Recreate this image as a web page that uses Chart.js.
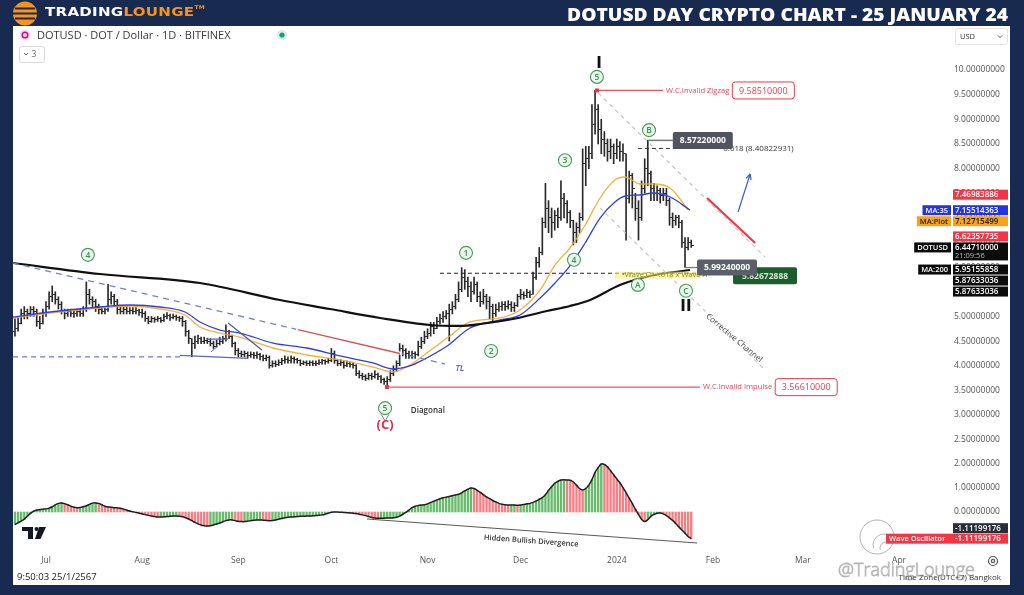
<!DOCTYPE html>
<html>
<head>
<meta charset="utf-8">
<title>DOTUSD Day Crypto Chart</title>
<script src="https://cdn.jsdelivr.net/npm/chart.js@4.4.1/dist/chart.umd.min.js"></script>
<style>
  html, body { margin: 0; padding: 0; }
  body { width: 1024px; height: 595px; background: #182a50; position: relative; overflow: hidden; font-family: 'Open Sans', sans-serif; }
  #panel { position: absolute; left: 13px; top: 26px; width: 997px; height: 559px; background: #ffffff; }
  #chart { position: absolute; left: 0; top: 0; }
  #brand { position: absolute; left: 45px; top: 4px; font: bold 12.5px 'DejaVu Sans', sans-serif; white-space: nowrap; transform-origin: left center; letter-spacing: 0.2px; }
  #brand .w { color: #ffffff; }
  #brand .o { color: #f7931e; }
  #brand sup { color: #f7931e; font-size: 5px; vertical-align: top; }
  #title { position: absolute; right: 16px; top: 2px; font: 800 18px 'Open Sans', sans-serif; color: #ffffff; white-space: nowrap; transform-origin: right center; }
  #sym { position: absolute; left: 37px; top: 27px; font: 400 11px 'Open Sans', sans-serif; color: #3a3a3a; white-space: nowrap; }
</style>
</head>
<body>
<div id="panel"></div>
<canvas id="chart" width="1024" height="595"></canvas>
<div id="brand"><span class="w">TRADING</span><span class="o">LOUNGE</span><sup>TM</sup></div>
<div id="title">DOTUSD DAY CRYPTO CHART - 25 JANUARY 24</div>
<div id="sym">DOTUSD · DOT / Dollar · 1D · BITFINEX</div>
<script>
// Daily DOT/USD bars. Day numbers count from 1 Jul 2023 (= day 0); first bar is 21 Jun 2023.
const firstDay = -10;
const firstOpen = 4.70;
const closes = [
  4.75,4.85,5.05,5.10,5.05,5.15,5.10,4.90,4.85,5.05,
  5.20,5.40,5.45,5.35,5.25,5.10,5.05,5.10,5.05,5.05,
  5.10,5.05,5.15,5.45,5.35,5.30,5.20,5.15,5.10,5.15,
  5.35,5.40,5.30,5.15,5.10,5.15,5.10,5.12,5.10,5.12,
  5.08,5.05,4.95,4.90,4.95,4.93,4.95,4.92,5.00,5.02,
  4.98,5.00,4.97,4.95,4.90,4.70,4.55,4.45,4.50,4.55,
  4.50,4.52,4.50,4.45,4.40,4.45,4.50,4.55,4.70,4.60,
  4.45,4.30,4.25,4.22,4.25,4.20,4.22,4.20,4.22,4.18,
  4.15,4.17,4.00,4.05,4.02,4.07,4.10,4.12,4.10,4.15,
  4.12,4.10,4.05,4.07,4.05,4.06,4.04,4.05,4.07,4.10,
  4.08,4.10,4.25,4.10,4.05,4.07,4.00,4.05,4.02,4.00,
  3.85,3.80,3.78,3.75,3.80,3.78,3.82,3.78,3.72,3.68,
  3.72,3.85,3.92,4.05,4.35,4.30,4.25,4.20,4.25,4.22,
  4.40,4.50,4.60,4.65,4.80,4.75,4.90,4.95,5.00,5.05,
  5.15,5.20,5.35,5.55,5.80,5.70,5.60,5.50,5.65,5.40,
  5.30,5.40,5.30,5.20,5.05,5.15,5.20,5.25,5.20,5.25,
  5.18,5.22,5.40,5.45,5.42,5.48,5.45,5.80,6.10,6.30,
  6.90,7.20,7.00,6.90,7.05,7.00,7.40,7.30,7.10,6.95,
  6.70,6.80,7.00,8.10,8.20,8.30,8.90,9.20,8.80,8.60,
  8.50,8.35,8.45,8.30,8.45,8.35,8.30,7.40,7.85,7.60,
  7.20,7.00,7.60,8.00,7.90,7.60,7.50,7.55,7.45,7.50,
  7.35,7.00,6.95,7.00,6.90,6.50,6.40,6.50,6.4471
];
const highs = [
  4.95,5.00,5.15,5.20,5.15,5.20,5.20,5.15,5.00,5.15,
  5.30,5.50,5.62,5.50,5.40,5.30,5.15,5.15,5.15,5.12,
  5.15,5.15,5.20,5.70,5.55,5.40,5.35,5.25,5.20,5.20,
  5.65,5.50,5.45,5.35,5.20,5.20,5.20,5.18,5.18,5.18,
  5.15,5.15,5.10,5.00,5.00,4.98,5.00,4.98,5.05,5.08,
  5.05,5.05,5.03,5.00,5.00,4.92,4.72,4.55,4.60,4.62,
  4.58,4.58,4.56,4.55,4.50,4.52,4.58,4.60,4.83,4.72,
  4.62,4.48,4.35,4.30,4.30,4.28,4.28,4.27,4.28,4.25,
  4.22,4.22,4.20,4.10,4.10,4.12,4.15,4.20,4.18,4.20,
  4.18,4.15,4.12,4.10,4.10,4.10,4.10,4.10,4.12,4.13,
  4.12,4.15,4.35,4.30,4.12,4.12,4.10,4.10,4.08,4.07,
  4.02,3.90,3.85,3.82,3.85,3.85,3.90,3.85,3.80,3.75,
  3.78,3.90,4.00,4.10,4.45,4.42,4.35,4.30,4.30,4.28,
  4.50,4.58,4.70,4.75,4.88,4.88,4.98,5.05,5.10,5.12,
  5.25,5.30,5.45,5.70,5.99,5.95,5.80,5.70,5.80,5.70,
  5.50,5.55,5.45,5.40,5.25,5.25,5.28,5.30,5.30,5.32,
  5.30,5.28,5.45,5.55,5.50,5.55,5.52,5.90,6.20,6.40,
  7.00,7.70,7.35,7.20,7.15,7.20,7.75,7.50,7.35,7.15,
  6.95,6.90,7.10,8.40,8.45,8.45,9.30,9.5851,9.30,9.00,
  8.75,8.60,8.60,8.50,8.60,8.55,8.50,8.30,7.95,7.90,
  7.50,7.35,7.75,8.20,8.5722,7.95,7.70,7.65,7.60,7.60,
  7.60,7.40,7.10,7.05,7.05,6.95,6.60,6.60,6.55
];
const lows = [
  4.60,4.70,4.85,4.95,4.95,5.00,5.00,4.80,4.75,4.85,
  5.00,5.15,5.30,5.25,5.15,5.05,4.95,5.00,5.00,4.98,
  5.00,5.00,5.00,5.10,5.25,5.20,5.10,5.05,5.05,5.05,
  5.10,5.25,5.20,5.05,5.05,5.05,5.05,5.05,5.05,5.05,
  5.02,4.98,4.90,4.85,4.88,4.88,4.90,4.88,4.90,4.95,
  4.92,4.95,4.92,4.90,4.80,4.60,4.45,4.18,4.35,4.45,
  4.45,4.45,4.45,4.40,4.35,4.38,4.42,4.45,4.50,4.55,
  4.38,4.22,4.18,4.18,4.18,4.15,4.17,4.15,4.15,4.12,
  4.10,4.10,3.95,3.97,3.98,4.00,4.02,4.05,4.05,4.05,
  4.05,4.05,4.00,4.02,4.00,4.00,4.00,4.00,4.02,4.03,
  4.03,4.05,4.08,4.05,4.00,4.00,3.95,3.98,3.97,3.95,
  3.80,3.75,3.72,3.70,3.72,3.72,3.75,3.72,3.65,3.62,
  3.5661,3.68,3.80,3.88,4.00,4.20,4.15,4.15,4.15,4.15,
  4.20,4.35,4.45,4.55,4.60,4.65,4.75,4.85,4.88,4.95,
  4.50,5.05,5.15,5.30,5.50,5.55,5.40,5.30,5.45,5.30,
  5.20,5.25,5.15,4.95,4.90,5.00,5.10,5.12,5.12,5.15,
  5.10,5.10,5.20,5.35,5.35,5.38,5.38,5.45,5.75,6.00,
  6.25,6.80,6.70,6.60,6.75,6.80,6.95,7.00,6.90,6.80,
  6.45,6.50,6.70,6.95,7.65,8.00,8.20,8.70,8.50,8.30,
  8.25,8.15,8.20,8.10,8.20,8.15,8.15,6.55,7.30,7.20,
  6.95,6.55,6.95,7.50,7.65,7.35,7.35,7.35,7.30,7.35,
  7.25,6.85,6.80,6.85,6.80,6.40,5.9924,6.35,6.40
];
// Wave oscillator, one value per bar
const waveOsc = [
  -0.52,-0.45,-0.38,-0.30,-0.18,-0.06,0.04,0.08,0.10,0.12,
  0.13,0.16,0.22,0.30,0.36,0.38,0.35,0.30,0.24,0.20,
  0.18,0.19,0.22,0.26,0.32,0.37,0.38,0.36,0.30,0.24,
  0.21,0.20,0.18,0.17,0.16,0.12,0.08,0.04,0.01,-0.02,
  -0.05,-0.08,-0.11,-0.14,-0.17,-0.19,-0.21,-0.21,-0.20,-0.19,
  -0.18,-0.17,-0.17,-0.18,-0.20,-0.24,-0.29,-0.36,-0.43,-0.49,
  -0.54,-0.57,-0.58,-0.57,-0.54,-0.50,-0.46,-0.41,-0.36,-0.33,
  -0.33,-0.36,-0.39,-0.40,-0.40,-0.38,-0.36,-0.34,-0.33,-0.33,
  -0.34,-0.35,-0.36,-0.35,-0.33,-0.30,-0.27,-0.24,-0.22,-0.21,
  -0.20,-0.19,-0.18,-0.18,-0.17,-0.17,-0.16,-0.15,-0.14,-0.12,
  -0.09,-0.05,-0.01,0.00,0.00,-0.01,-0.02,-0.03,-0.04,-0.05,
  -0.07,-0.09,-0.12,-0.15,-0.19,-0.23,-0.25,-0.26,-0.26,-0.26,
  -0.25,-0.25,-0.24,-0.22,-0.17,-0.10,-0.02,0.08,0.18,0.24,
  0.27,0.29,0.30,0.34,0.40,0.45,0.50,0.55,0.59,0.62,
  0.65,0.68,0.71,0.74,0.80,0.88,0.95,1.00,0.98,0.90,
  0.82,0.72,0.63,0.56,0.48,0.42,0.36,0.32,0.30,0.29,
  0.29,0.29,0.28,0.29,0.31,0.34,0.36,0.40,0.46,0.53,
  0.60,0.72,0.90,1.05,1.20,1.28,1.33,1.34,1.33,1.32,
  1.25,1.12,0.98,0.92,0.98,1.12,1.35,1.65,1.85,2.00,
  1.98,1.88,1.72,1.55,1.38,1.22,1.02,0.80,0.58,0.35,
  0.12,-0.10,-0.30,-0.40,-0.32,-0.18,-0.10,-0.05,-0.04,-0.08,
  -0.15,-0.25,-0.35,-0.48,-0.62,-0.75,-0.88,-1.02,-1.11
];
// Moving averages: [day, price]
const ma200Pts = [[-10.6,6.084],[17.4,5.861],[49.6,5.679],[75.4,5.334],[91.6,5.151],[107.7,4.969],[123.8,4.827],[133.5,4.807],[139.9,4.847],[150.5,4.949],[161.5,5.111],[168.9,5.212],[175.4,5.334],[185.0,5.638],[194.7,5.821],[207.6,5.943]];
const ma35Pts = [[-10.6,4.989],[1.3,5.090],[17.4,5.192],[27.1,5.232],[36.8,5.192],[44.8,5.090],[49.6,4.888],[56.1,4.725],[62.5,4.664],[73.2,4.461],[84.1,4.360],[94.8,4.198],[105.4,4.056],[111.9,3.934],[117.3,3.995],[121.5,4.117],[129.3,4.400],[136.7,4.766],[146.4,4.928],[152.8,5.029],[159.3,5.374],[164.1,5.679],[168.9,6.024],[173.8,6.490],[178.6,6.997],[183.4,7.322],[186.7,7.444],[191.5,7.464],[195.7,7.505],[201.2,7.423],[207.6,7.160]];
const maPlotPts = [[-10.6,4.969],[1.3,5.070],[17.4,5.171],[27.1,5.212],[36.8,5.151],[44.8,5.029],[49.6,4.786],[56.1,4.664],[62.5,4.583],[73.2,4.360],[84.1,4.218],[94.8,4.117],[105.4,3.974],[111.9,3.873],[117.3,4.015],[121.5,4.198],[129.3,4.563],[136.7,4.888],[146.4,4.969],[152.8,5.131],[159.3,5.537],[164.1,6.044],[168.9,6.389],[173.8,6.855],[178.6,7.403],[183.4,7.768],[186.7,7.829],[191.5,7.687],[195.7,7.687],[201.2,7.606],[207.0,7.160]];
// Axis ticks
const monthTicks = [0,31,62,92,123,153,184,215,244,275];
const monthNames = ['Jul','Aug','Sep','Oct','Nov','Dec','2024','Feb','Mar','Apr'];
const priceTicks = [10,9.5,9,8.5,8,7.5,7,6.5,6,5.5,5,4.5,4,3.5,3,2.5];
const oscTicks = [2,1,0];
// Last-value tags on the price scale
const priceTags = [
  {value:7.46983886, bg:'#f23645', fg:'#ffffff'},
  {value:7.15514363, bg:'#2434e0', fg:'#ffffff', name:'MA:35'},
  {value:7.12715499, bg:'#f7a21b', fg:'#1d1d1d', name:'MA:Plot'},
  {value:6.62357735, bg:'#f23645', fg:'#ffffff'},
  {value:6.44710000, bg:'#0b0b0b', fg:'#ffffff', name:'DOTUSD', sub:'21:09:56'},
  {value:5.95155858, bg:'#0b0b0b', fg:'#ffffff', name:'MA:200'},
  {value:5.87633036, bg:'#0b0b0b', fg:'#ffffff'},
  {value:5.87633036, bg:'#0b0b0b', fg:'#ffffff'}
];
const oscLast = -1.11199176;
// Elliott wave counts: [label, day, price]
const waveCounts = [['4',13.5,6.25],['1',135.4,6.29],['2',143.5,4.30],['3',167.3,8.17],['5',177.6,9.86],['B',194.4,8.78],['4',170.2,6.15],['A',190.8,5.64],['C',206.3,5.52],['5',109.3,3.14]];
const degreeMarks = [['I',178.3,10.12],['II',206.3,5.18]];
const zigzagInvalid = {day:177.6, price:9.5851, endDay:198.9};
const impulseInvalid = {day:109.9, price:3.5661, endDay:210.8};
const waveBHigh = {day:194, price:8.5722};
const waveCLow = {day:206, price:5.9924};
const waveCTarget = 5.82672888;
const fib618 = {price:8.40822931, fromDay:190.8, toDay:218};
const breakLevel = {price:5.87633036, fromDay:127, toDay:210.8};
const trendLine = {d1:-10.6, p1:6.084, d2:128.6, p2:4.035, redFrom:81.2, redTo:114.1};
const channelTop = [[178.0,9.533],[231.8,6.206]];
const channelBottom = [[178.6,7.200],[231.8,3.914]];
const divergence = [[103.5,-0.29],[209.9,-1.29]];

Chart.defaults.font.family = "'Open Sans', sans-serif";

const days = closes.map((_, i) => firstDay + i);
const opens = closes.map((c, i) => i === 0 ? firstOpen : closes[i - 1]);
const oscColors = waveOsc.map((v, i) => (i === 0 || v >= waveOsc[i - 1]) ? 'rgba(76,175,80,0.85)' : 'rgba(242,78,88,0.72)');
const toXY = pts => pts.map(([x, y]) => ({x, y}));

function tickMark(side) {
  const c = document.createElement('canvas');
  c.width = 5; c.height = 1;
  const g = c.getContext('2d');
  g.fillStyle = '#2a2a2a';
  g.fillRect(side < 0 ? 0 : 3, 0, 2, 1);
  return c;
}

function roundRectPath(c, x, y, w, h, r) {
  c.beginPath();
  c.moveTo(x + r, y);
  c.lineTo(x + w - r, y); c.quadraticCurveTo(x + w, y, x + w, y + r);
  c.lineTo(x + w, y + h - r); c.quadraticCurveTo(x + w, y + h, x + w - r, y + h);
  c.lineTo(x + r, y + h); c.quadraticCurveTo(x, y + h, x, y + h - r);
  c.lineTo(x, y + r); c.quadraticCurveTo(x, y, x + r, y);
  c.closePath();
}

const overlay = {
  id: 'overlay',
  afterDraw(chart) {
    const c = chart.ctx;
    const sx = chart.scales.x, sy = chart.scales.y, so = chart.scales.yo;
    const X = d => sx.getPixelForValue(d);
    const Y = p => sy.getPixelForValue(p);
    const YO = v => so.getPixelForValue(v);
    const F = (w, s) => `${w} ${s}px 'Open Sans', sans-serif`;

    function seg(x1, y1, x2, y2, col, w, dash) {
      c.save(); c.beginPath(); c.setLineDash(dash || []); c.strokeStyle = col; c.lineWidth = w;
      c.moveTo(x1, y1); c.lineTo(x2, y2); c.stroke(); c.restore();
    }
    function txt(s, x, y, font, col, align, base) {
      c.save(); c.font = font; c.fillStyle = col; c.textAlign = align || 'left'; c.textBaseline = base || 'middle';
      c.fillText(s, x, y); c.restore();
    }
    function box(x, y, w, h, r, fill, stroke) {
      c.save(); roundRectPath(c, x, y, w, h, r);
      if (fill) { c.fillStyle = fill; c.fill(); }
      if (stroke) { c.strokeStyle = stroke; c.lineWidth = 1; c.stroke(); }
      c.restore();
    }
    function width(s, font) { c.save(); c.font = font; const w = c.measureText(s).width; c.restore(); return w; }

    // corrective channel
    seg(X(channelTop[0][0]), Y(channelTop[0][1]), X(channelTop[1][0]), Y(channelTop[1][1]), '#c6c6c6', 1.2, [4, 4]);
    seg(X(channelBottom[0][0]), Y(channelBottom[0][1]), X(channelBottom[1][0]), Y(channelBottom[1][1]), '#c6c6c6', 1.2, [4, 4]);

    // falling trend line (TL) with the broken section in red
    const tl = trendLine;
    const tlAt = d => tl.p1 + (tl.p2 - tl.p1) * (d - tl.d1) / (tl.d2 - tl.d1);
    seg(X(tl.d1), Y(tl.p1), X(tl.d2), Y(tl.p2), '#7282cc', 1.3, [6, 5]);
    seg(X(tl.redFrom) - 2, Y(tlAt(tl.redFrom)), X(tl.redTo) + 2, Y(tlAt(tl.redTo)), '#ffffff', 3);
    seg(X(tl.redFrom), Y(tlAt(tl.redFrom)), X(tl.redTo), Y(tlAt(tl.redTo)), '#d9534f', 1.3);
    txt('TL', X(131.9), Y(3.955), 'italic 600 9px \'Open Sans\', sans-serif', '#5b6bc9', 'left');

    // summer range / triangle drawings
    seg(X(-10.6), Y(4.18), X(43.2), Y(4.18), '#6b7bd0', 1.2, [5, 4]);
    seg(X(43.2), Y(4.21), X(65.1), Y(4.15), '#5566cc', 1.3);
    seg(X(51.9), Y(4.54), X(58.7), Y(4.54), '#5566cc', 1.3);
    seg(X(53.2), Y(4.28), X(55.4), Y(4.40), '#5566cc', 1);
    seg(X(58.7), Y(4.867), X(69.6), Y(4.319), '#4a5aa8', 1.2);

    // horizontal levels
    seg(X(breakLevel.fromDay), Y(breakLevel.price), X(breakLevel.toDay), Y(breakLevel.price), '#222', 1, [4, 3]);
    seg(X(fib618.fromDay), Y(fib618.price), X(fib618.toDay), Y(fib618.price), '#333', 1, [4, 3]);
    txt('0.618 (8.40822931)', X(fib618.toDay) + 1, Y(fib618.price), F(400, 8), '#333');

    // invalidation levels
    function invalidation(lv, label, valueText) {
      const x0 = X(lv.day), y0 = Y(lv.price), x1 = X(lv.endDay);
      seg(x0, y0, x1, y0, '#f0505e', 1.2);
      c.fillStyle = '#e23a4a'; c.fillRect(x0 - 2, y0 - 2, 4, 4);
      const f = F(400, 7.6);
      txt(label, x1 + 3, y0, f, '#ee4455');
      const bx = x1 + 3 + width(label, f) + 3;
      box(bx, y0 - 8.5, 62, 17, 3, '#ffffff', '#f23645');
      txt(valueText, bx + 31, y0 + 0.5, F(400, 9), '#e8404e', 'center');
    }
    invalidation(zigzagInvalid, 'W.C.Invalid Zigzag', '9.58510000');
    invalidation(impulseInvalid, 'W.C.Invalid Impulse', '3.56610000');

    // expected path sketch
    seg(X(213.1), Y(7.403), X(228.6), Y(6.490), '#f23645', 2.2);
    const ax1 = X(223.1), ay1 = Y(7.119), ax2 = X(227.0), ay2 = Y(7.890);
    seg(ax1, ay1, ax2, ay2, '#3a5bc7', 1.2);
    const ang = Math.atan2(ay2 - ay1, ax2 - ax1);
    seg(ax2, ay2, ax2 - 6 * Math.cos(ang - 0.45), ay2 - 6 * Math.sin(ang - 0.45), '#3a5bc7', 1.2);
    seg(ax2, ay2, ax2 - 6 * Math.cos(ang + 0.45), ay2 - 6 * Math.sin(ang + 0.45), '#3a5bc7', 1.2);

    // wave C projection note
    c.fillStyle = 'rgba(255,236,120,0.6)';
    c.fillRect(X(183.4), Y(5.84) - 3.5, X(210.8) - X(183.4), 7);
    txt('\u2022Wave C = .618 x Wave A', X(185.7), Y(5.84), F(400, 7.5), '#7d8a1d');

    // wave count circles
    waveCounts.forEach(([t, d, p]) => {
      const x = X(d), y = Y(p);
      c.beginPath(); c.arc(x, y, 6.5, 0, Math.PI * 2);
      c.fillStyle = 'rgba(234,246,236,0.95)'; c.fill();
      c.lineWidth = 1.1; c.strokeStyle = '#4a9a5c'; c.stroke();
      txt(t, x, y + 0.5, F(600, 8.5), '#3f8f52', 'center');
    });
    {
      const x = X(109.3), y = Y(3.14);
      c.save(); c.beginPath(); c.strokeStyle = '#6d8f74'; c.lineWidth = 1;
      c.moveTo(x - 4, y + 6); c.lineTo(x, y + 13); c.lineTo(x + 4, y + 6); c.stroke(); c.restore();
      txt('(C)', x, Y(2.80), F(700, 13), '#e5304a', 'center');
      txt('Diagonal', X(123.1), Y(3.08), F(600, 8), '#333', 'center');
    }
    degreeMarks.forEach(([t, d, p]) => txt(t, X(d), Y(p), "bold 15px 'DejaVu Sans', sans-serif", '#111', 'center'));

    // channel caption
    c.save(); c.translate(X(221.8), Y(4.563)); c.rotate(40 * Math.PI / 180);
    txt('Corrective Channel', 0, 0, F(400, 8), '#444', 'center'); c.restore();

    // wave B high label
    {
      const x = X(waveBHigh.day), y = Y(waveBHigh.price);
      seg(x, y, x + 25, y, '#777', 1.5);
      box(x + 25, y - 8.5, 60, 17, 2, '#50545e');
      txt('8.57220000', x + 55, y + 0.5, F(700, 8.5), '#ffffff', 'center');
    }
    // wave C low and target labels
    {
      const x = X(waveCLow.day), y = Y(waveCLow.price), yt = Y(waveCTarget);
      box(x + 48, yt - 8.5, 64, 17, 2, '#1d5c2c');
      txt(waveCTarget.toFixed(8), x + 80, yt + 0.5, F(700, 8.5), '#cfe8d2', 'center');
      seg(x, y, x + 12, y, '#777', 1.2);
      box(x + 12, y - 8, 60, 16, 2, '#5b5f68');
      txt('5.99240000', x + 42, y + 0.5, F(700, 8.5), '#ffffff', 'center');
    }

    // hidden bullish divergence on the oscillator
    {
      const x1 = X(divergence[0][0]), y1 = YO(divergence[0][1]), x2 = X(divergence[1][0]), y2 = YO(divergence[1][1]);
      seg(x1, y1, x2, y2, '#5a5a5a', 1.1);
      c.save(); c.translate(X(156.4), YO(-1.21)); c.rotate(Math.atan2(y2 - y1, x2 - x1));
      txt('Hidden Bullish Divergence', 0, 0, F(600, 7.5), '#333', 'center'); c.restore();
    }

    // oscillator scale labels
    oscTicks.forEach(v => txt(v.toFixed(8), 954, YO(v), F(400, 8.5), '#555'));

    // last-value tags on the price scale
    let prevBottom = -Infinity;
    priceTags.forEach(tag => {
      const h = tag.sub ? 18 : 10;
      let top = Y(tag.value) - 5;
      if (top < prevBottom + 1) top = prevBottom + 1;
      prevBottom = top + h;
      c.fillStyle = tag.bg; c.fillRect(953, top, 55, h);
      txt(tag.value.toFixed(8), 955, top + 5.3, F(600, 8), tag.fg);
      if (tag.sub) txt(tag.sub, 955, top + 13.5, F(400, 7.5), '#bbbbbb');
      if (tag.name) {
        const f = F(600, 7.5);
        const w = width(tag.name, f) + 6;
        c.fillStyle = tag.bg; c.fillRect(951 - w, top, w, 10);
        txt(tag.name, 951 - w / 2, top + 5.3, f, tag.fg, 'center');
      }
    });
    // oscillator tag
    {
      const y = YO(oscLast);
      c.fillStyle = '#f23645'; c.fillRect(886, y - 5, 122, 10);
      txt('Wave Oscillator', 889, y + 0.3, F(600, 7.5), '#ffffff');
      txt(oscLast.toFixed(8), 955, y + 0.3, F(600, 8), '#ffffff');
      c.fillStyle = '#2a2e39'; c.fillRect(953, y - 15.5, 55, 10);
      txt(oscLast.toFixed(8), 955, y - 10.2, F(600, 8), '#ffffff');
    }

    // watermark
    c.save();
    c.strokeStyle = 'rgba(120,120,120,0.55)'; c.lineWidth = 1;
    c.beginPath(); c.arc(877, 537, 17, 0, Math.PI * 2); c.stroke();
    c.beginPath(); c.arc(884, 545, 11, Math.PI * 0.9, Math.PI * 1.6); c.stroke();
    c.beginPath(); c.arc(886, 548, 6, Math.PI * 0.9, Math.PI * 1.7); c.stroke();
    c.restore();
    txt('Time Zone(UTC+7) Bangkok', 1001, 578, F(400, 8), '#333', 'right');
    c.save(); c.font = "300 18px 'Open Sans', sans-serif"; c.strokeStyle = 'rgba(120,120,120,0.55)'; c.lineWidth = 0.8;
    c.textBaseline = 'middle'; c.strokeText('@TradingLounge', 838, 571); c.restore();

    // settings gear
    c.save(); c.strokeStyle = '#555'; c.lineWidth = 1.2;
    c.beginPath(); c.arc(993, 561, 4.5, 0, Math.PI * 2); c.stroke();
    c.beginPath(); c.arc(993, 561, 1.6, 0, Math.PI * 2); c.stroke(); c.restore();

    // timestamp
    txt('9:50:03 25/1/2567', 17, 577, F(400, 9.5), '#222');

    // platform mark
    c.save(); c.fillStyle = '#131722';
    c.beginPath(); c.moveTo(22, 527); c.lineTo(33, 527); c.lineTo(33, 539); c.lineTo(28, 539); c.lineTo(28, 531); c.lineTo(22, 531); c.closePath(); c.fill();
    c.beginPath(); c.arc(36.5, 529, 2, 0, Math.PI * 2); c.fill();
    c.beginPath(); c.moveTo(39, 527); c.lineTo(46, 527); c.lineTo(40.5, 539); c.lineTo(35, 539); c.closePath(); c.fill();
    c.restore();

    // symbol header
    c.save();
    c.beginPath(); c.arc(25, 35, 5.5, 0, Math.PI * 2); c.fillStyle = '#f6dbe9'; c.fill();
    c.beginPath(); c.arc(25, 35, 2.8, 0, Math.PI * 2); c.strokeStyle = '#e6007a'; c.lineWidth = 1.4; c.stroke();
    c.beginPath(); c.arc(282, 35, 5, 0, Math.PI * 2); c.fillStyle = 'rgba(26,161,121,0.18)'; c.fill();
    c.beginPath(); c.arc(282, 35, 2.6, 0, Math.PI * 2); c.fillStyle = '#1aa179'; c.fill();
    c.restore();
    box(19.5, 46.5, 25, 16, 2, '#ffffff', '#d9d9d9');
    seg(24, 53, 26, 55, '#666', 1); seg(26, 55, 28, 53, '#666', 1);
    txt('3', 34, 55, F(400, 8.5), '#666', 'center');
    box(955.5, 28.5, 52, 16, 2, '#ffffff', '#e3e3e3');
    txt('USD', 960, 37, F(400, 7.5), '#333');
    seg(998, 35.5, 1000, 37.5, '#555', 1); seg(1000, 37.5, 1002, 35.5, '#555', 1);

    // brand circle
    c.save();
    c.beginPath(); c.arc(25, 13.5, 12, 0, Math.PI * 2); c.fillStyle = '#f7931e'; c.fill();
    c.clip();
    c.fillStyle = '#182a50';
    c.fillRect(15, 7.5, 20, 2); c.fillRect(13, 12.5, 24, 2); c.fillRect(15, 17.5, 20, 2);
    c.restore();
  }
};

new Chart(document.getElementById('chart'), {
  type: 'line',
  data: {
    datasets: [
      { type: 'bar', label: 'Wave Oscillator', data: days.map((d, i) => ({x: d, y: waveOsc[i]})), yAxisID: 'yo',
        backgroundColor: oscColors, barThickness: 1.7, grouped: false, order: 9 },
      { type: 'line', label: 'Wave Oscillator line', data: days.map((d, i) => ({x: d, y: waveOsc[i]})), yAxisID: 'yo',
        borderColor: '#1e1e1e', borderWidth: 1.5, pointRadius: 0, tension: 0.35, order: 8 },
      { type: 'bar', label: 'DOTUSD range', data: days.map((d, i) => ({x: d, y: [lows[i], highs[i]]})), yAxisID: 'y',
        backgroundColor: '#2a2a2a', barThickness: 1, grouped: false, order: 7 },
      { type: 'scatter', label: 'Open', data: days.map((d, i) => ({x: d, y: opens[i]})), yAxisID: 'y',
        pointStyle: tickMark(-1), pointRadius: 1, order: 6 },
      { type: 'scatter', label: 'Close', data: days.map((d, i) => ({x: d, y: closes[i]})), yAxisID: 'y',
        pointStyle: tickMark(1), pointRadius: 1, order: 6 },
      { type: 'line', label: 'MA:Plot', data: toXY(maPlotPts), yAxisID: 'y', borderColor: 'rgba(246,166,35,0.9)',
        borderWidth: 1.3, pointRadius: 0, cubicInterpolationMode: 'monotone', order: 5 },
      { type: 'line', label: 'MA:35', data: toXY(ma35Pts), yAxisID: 'y', borderColor: '#2f3fe3',
        borderWidth: 1.3, pointRadius: 0, cubicInterpolationMode: 'monotone', order: 4 },
      { type: 'line', label: 'MA:200', data: toXY(ma200Pts), yAxisID: 'y', borderColor: '#111111',
        borderWidth: 2.2, pointRadius: 0, cubicInterpolationMode: 'monotone', order: 3 }
    ]
  },
  options: {
    responsive: false,
    animation: false,
    devicePixelRatio: 1,
    events: [],
    layout: { padding: { left: 13, right: 14, top: 26, bottom: 10 } },
    plugins: { legend: { display: false }, tooltip: { enabled: false } },
    scales: {
      x: {
        type: 'linear', min: -10.638, max: 291.42, offset: false,
        grid: { display: false, drawTicks: false }, border: { display: false },
        afterBuildTicks: s => { s.ticks = monthTicks.map(v => ({value: v})); },
        afterFit: s => { s.height = 37; },
        ticks: { autoSkip: false, maxRotation: 0, padding: 7, color: '#555', font: { size: 8.5 },
                 callback: (v, i) => monthNames[i] }
      },
      y: {
        type: 'linear', position: 'right', min: 0.3024, max: 10.8927,
        grid: { display: false, drawTicks: false }, border: { display: false },
        afterBuildTicks: s => { s.ticks = priceTicks.map(v => ({value: v})); },
        afterFit: s => { s.width = 60; },
        ticks: { padding: 4, color: '#555', font: { size: 8.5 }, callback: v => Number(v).toFixed(8) }
      },
      yo: { type: 'linear', position: 'right', display: false, min: -1.5, max: 20.25 }
    }
  },
  plugins: [overlay]
});

// fit header texts to their band widths
function fitWidth(id, target) {
  const el = document.getElementById(id);
  const w = el.getBoundingClientRect().width;
  el.style.transform = `scaleX(${target / w})`;
}
fitWidth('title', 441);
fitWidth('brand', 160);
</script>
</body>
</html>
